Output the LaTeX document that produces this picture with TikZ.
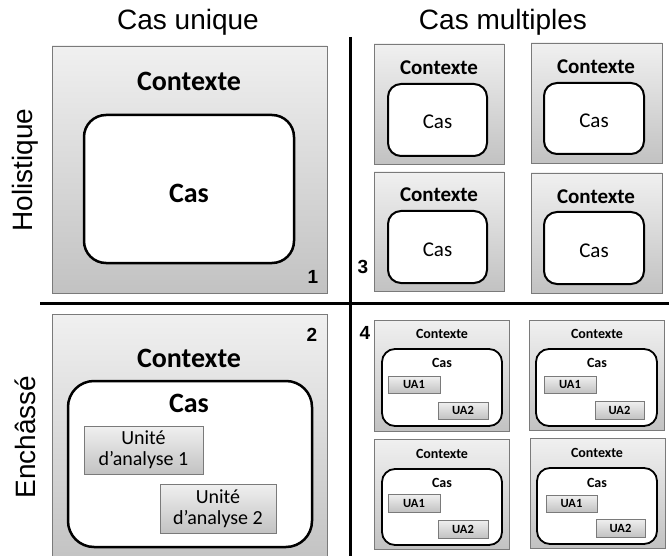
\documentclass[tikz,border=0pt]{standalone}
\usepackage{fontspec}
\setmainfont{Carlito}
\newfontfamily\arialf{Liberation Sans}
\definecolor{gtop}{HTML}{F0F0F0}
\definecolor{gbot}{HTML}{C2C2C2}
\definecolor{gedge}{HTML}{7A7A7A}
\begin{document}
\begin{tikzpicture}[x=1pt,y=-1pt,
  ctx/.style={rectangle,draw=gedge,line width=0.9pt,top color=gtop,bottom color=gbot,inner sep=0pt},
  casbox/.style={rectangle,draw=black,fill=white,inner sep=0pt},
  uabox/.style={rectangle,draw=gedge,line width=0.8pt,top color=gtop,bottom color=gbot,inner sep=0pt,align=center},
  hdr/.style={font=\arialf\fontsize{28}{32}\selectfont,inner sep=0pt},
  num/.style={font=\arialf\bfseries\fontsize{19}{22}\selectfont,inner sep=0pt},
  bigtxt/.style={font=\bfseries\fontsize{28}{32}\selectfont,inner sep=0pt},
  midb/.style={font=\bfseries\fontsize{21}{24}\selectfont,inner sep=0pt},
  midr/.style={font=\fontsize{21}{24}\selectfont,inner sep=0pt},
  smb/.style={font=\bfseries\fontsize{14}{16}\selectfont,inner sep=0pt},
  tiny/.style={font=\bfseries\fontsize{12.5}{14}\selectfont,inner sep=0pt},
  divider/.style={line width=3pt,black}
]
\useasboundingbox (0,0) rectangle (669,556);
% headers
\node[hdr] (hcu) at (188,22) {Cas unique};
\node[hdr] (hcm) at (503,22) {Cas multiples};
\node[hdr,rotate=90] (hho) at (25,170) {Holistique};
\node[hdr,rotate=90] (hen) at (25,437) {Enchâssé};
% dividers
\coordinate (hl) at (40,303);
\coordinate (hr) at (669,303);
\coordinate (vt) at (350,37);
\coordinate (vb) at (350,556);
\draw[divider] (hl) -- (hr);
\draw[divider] (vt) -- (vb);
% ---------- quadrant 1
\node[ctx,minimum width=275pt,minimum height=247pt] (b1) at (189.5,169.5) {};
\node[casbox,line width=2.5pt,rounded corners=22pt,minimum width=210pt,minimum height=148pt] (i1) at (189,189) {};
\node[bigtxt] (t1c) at (189,81) {Contexte};
\node[bigtxt] (t1a) at (189,193) {Cas};
\node[num] (n1) at (313,277) {1};
% ---------- quadrant 3
\node[ctx,minimum width=130pt,minimum height=120pt] (b3a) at (439,104) {};
\node[casbox,line width=2pt,rounded corners=13pt,minimum width=99pt,minimum height=72pt] (i3a) at (437.5,120) {};
\node[midb] at (439,68) (t3ac) {Contexte};
\node[midr] at (437.5,122) (t3aa) {Cas};
\node[ctx,minimum width=131pt,minimum height=120pt] (b3b) at (596.5,103) {};
\node[casbox,line width=2pt,rounded corners=13pt,minimum width=100pt,minimum height=71pt] (i3b) at (594,118.5) {};
\node[midb] at (596,67) (t3bc) {Contexte};
\node[midr] at (594,121) (t3ba) {Cas};
\node[ctx,minimum width=130pt,minimum height=119pt] (b3c) at (439,231.5) {};
\node[casbox,line width=2pt,rounded corners=13pt,minimum width=99pt,minimum height=72pt] (i3c) at (437.5,247) {};
\node[midb] at (439,195) (t3cc) {Contexte};
\node[midr] at (437.5,250) (t3ca) {Cas};
\node[ctx,minimum width=131pt,minimum height=120pt] (b3d) at (596.5,233) {};
\node[casbox,line width=2pt,rounded corners=13pt,minimum width=100pt,minimum height=72pt] (i3d) at (594,248) {};
\node[midb] at (596,197) (t3dc) {Contexte};
\node[midr] at (594,251) (t3da) {Cas};
\node[num] (n3) at (363,267) {3};
% ---------- quadrant 2
\node[ctx,minimum width=275pt,minimum height=251pt] (b2) at (189.5,439.5) {};
\node[casbox,line width=2.5pt,rounded corners=26pt,minimum width=244pt,minimum height=166pt] (i2) at (190,464) {};
\node[bigtxt] (t2c) at (189,358) {Contexte};
\node[bigtxt] (t2a) at (189,403) {Cas};
\node[num] (n2) at (312,335) {2};
\node[uabox,minimum width=119pt,minimum height=48pt,font=\fontsize{20}{21}\selectfont] (u21) at (143.5,450) {Unité\\d’analyse 1};
\node[uabox,minimum width=116pt,minimum height=49pt,font=\fontsize{20}{21}\selectfont] (u22) at (218,508.5) {Unité\\d’analyse 2};
% ---------- quadrant 4
% A
\node[ctx,minimum width=135pt,minimum height=111pt] (b4a) at (441.5,375.5) {};
\node[casbox,line width=1.8pt,rounded corners=13pt,minimum width=120pt,minimum height=77pt] (i4a) at (442,387.5) {};
\node[smb] (t4ac) at (442,334) {Contexte};
\node[smb] (t4aa) at (442,363) {Cas};
\node[uabox,tiny,minimum width=52pt,minimum height=17pt] (u4a1) at (414,384.5) {UA1};
\node[uabox,tiny,minimum width=50pt,minimum height=17pt] (u4a2) at (463,410.5) {UA2};
% B
\node[ctx,minimum width=135pt,minimum height=110pt] (b4b) at (596.5,375) {};
\node[casbox,line width=1.8pt,rounded corners=13pt,minimum width=121pt,minimum height=77pt] (i4b) at (596.5,387.5) {};
\node[smb] (t4bc) at (597,334) {Contexte};
\node[smb] (t4ba) at (597,363) {Cas};
\node[uabox,tiny,minimum width=52pt,minimum height=17pt] (u4b1) at (570,384.5) {UA1};
\node[uabox,tiny,minimum width=49pt,minimum height=18pt] (u4b2) at (619.5,410) {UA2};
% C
\node[ctx,minimum width=135pt,minimum height=110pt] (b4c) at (441.5,494) {};
\node[casbox,line width=1.8pt,rounded corners=13pt,minimum width=120pt,minimum height=76pt] (i4c) at (442,507) {};
\node[smb] (t4cc) at (442,454) {Contexte};
\node[smb] (t4ca) at (442,483) {Cas};
\node[uabox,tiny,minimum width=52pt,minimum height=18pt] (u4c1) at (414,503) {UA1};
\node[uabox,tiny,minimum width=50pt,minimum height=18pt] (u4c2) at (463,529) {UA2};
% D
\node[ctx,minimum width=135pt,minimum height=110pt] (b4d) at (597.5,493) {};
\node[casbox,line width=1.8pt,rounded corners=13pt,minimum width=120pt,minimum height=76pt] (i4d) at (597,506) {};
\node[smb] (t4dc) at (597,453) {Contexte};
\node[smb] (t4da) at (597,483) {Cas};
\node[uabox,tiny,minimum width=51pt,minimum height=17pt] (u4d1) at (571.5,503.5) {UA1};
\node[uabox,tiny,minimum width=49pt,minimum height=18pt] (u4d2) at (620.5,528) {UA2};
\node[num] (n4) at (365,333) {4};
\end{tikzpicture}
\end{document}
